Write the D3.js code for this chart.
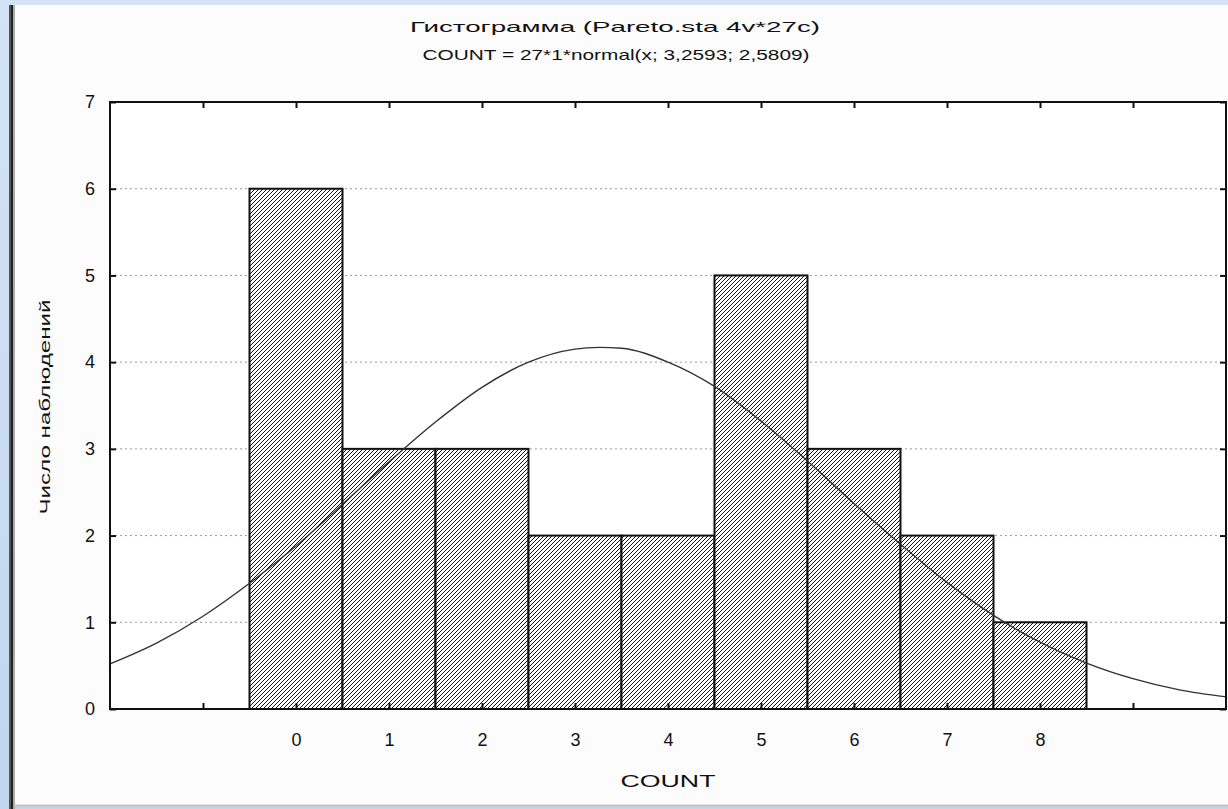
<!DOCTYPE html>
<html>
<head>
<meta charset="utf-8">
<script src="https://cdnjs.cloudflare.com/ajax/libs/d3/7.8.5/d3.min.js"></script>
<style>
  body { margin: 0; background: #c9dcf1; }
  svg { display: block; }
  text { font-family: "Liberation Sans", Arial, sans-serif; fill: #111; }
</style>
</head>
<body>
<div id="chart"></div>
<script>
// histogram bins (COUNT value) and number of observations
const categories = [0, 1, 2, 3, 4, 5, 6, 7, 8];
const counts = [6, 3, 3, 2, 2, 5, 3, 2, 1];

// fitted normal curve, every 0.5
const curveX = [-2, -1.5, -1, -0.5, 0, 0.5, 1, 1.5, 2, 2.5, 3, 3.26, 3.5, 4, 4.5, 5, 5.5, 6, 6.5, 7, 7.5, 8, 8.5, 9, 9.5, 10];
const curveY = [0.52, 0.76, 1.07, 1.45, 1.88, 2.36, 2.85, 3.31, 3.71, 4.0, 4.15, 4.17, 4.16, 4.0, 3.72, 3.32, 2.86, 2.37, 1.9, 1.46, 1.08, 0.77, 0.53, 0.35, 0.22, 0.14];

const xTicks = [-1, 0, 1, 2, 3, 4, 5, 6, 7, 8, 9];
const yTicks = [0, 1, 2, 3, 4, 5, 6, 7];

const title1 = "Гистограмма (Pareto.sta 4v*27c)";
const title2 = "COUNT = 27*1*normal(x; 3,2593; 2,5809)";
const xTitle = "COUNT";
const yTitle = "Число наблюдений";

const W = 1228, H = 809;
const plot = { left: 110, right: 1226, top: 102, bottom: 709 };

const svg = d3.select("#chart").append("svg")
  .attr("width", W)
  .attr("height", H);

// slide background + white window
const defs = svg.append("defs");
const bg = defs.append("linearGradient").attr("id", "bg")
  .attr("x1", 0).attr("y1", 0).attr("x2", 0).attr("y2", 1);
bg.append("stop").attr("offset", "0%").attr("stop-color", "#d3e3f5");
bg.append("stop").attr("offset", "100%").attr("stop-color", "#c0d6ef");
svg.append("rect").attr("width", W).attr("height", H).attr("fill", "url(#bg)");

svg.append("rect")
  .attr("x", 14).attr("y", 5)
  .attr("width", W - 14).attr("height", 800)
  .attr("fill", "#fcfcfc");
svg.append("rect").attr("x", 9).attr("y", 5).attr("width", 2).attr("height", 804).attr("fill", "#555");
svg.append("rect").attr("x", 11).attr("y", 5).attr("width", 2).attr("height", 804).attr("fill", "#222");
svg.append("rect").attr("x", 13).attr("y", 5).attr("width", 2).attr("height", 804).attr("fill", "#aaa");
svg.append("line")
  .attr("x1", 14).attr("x2", W).attr("y1", 805.5).attr("y2", 805.5)
  .attr("stroke", "#c4c4c4").attr("stroke-width", 2);

// hatch pattern
const hatch = defs.append("pattern")
  .attr("id", "hatch")
  .attr("patternUnits", "userSpaceOnUse")
  .attr("width", 4).attr("height", 4);
hatch.append("rect").attr("width", 4).attr("height", 4).attr("fill", "#fff");
hatch.append("path")
  .attr("d", "M-1,1 L1,-1 M0,4 L4,0 M3,5 L5,3")
  .attr("stroke", "#111")
  .attr("stroke-width", 1);

const x = d3.scaleLinear().domain([-2, 10]).range([plot.left, plot.right]);
const y = d3.scaleLinear().domain([0, 7]).range([plot.bottom, plot.top]);

svg.append("rect")
  .attr("x", plot.left).attr("y", plot.top)
  .attr("width", plot.right - plot.left)
  .attr("height", plot.bottom - plot.top)
  .attr("fill", "#fff");

// dotted grid
svg.append("g")
  .selectAll("line")
  .data(yTicks.filter(d => d > 0 && d < 7))
  .join("line")
  .attr("x1", plot.left).attr("x2", plot.right)
  .attr("y1", d => y(d)).attr("y2", d => y(d))
  .attr("stroke", "#999")
  .attr("stroke-width", 1)
  .attr("stroke-dasharray", "2,3");

// bars
svg.append("g")
  .selectAll("rect")
  .data(categories)
  .join("rect")
  .attr("x", (d) => x(d - 0.5))
  .attr("y", (d, i) => y(counts[i]))
  .attr("width", (d) => x(d + 0.5) - x(d - 0.5))
  .attr("height", (d, i) => y(0) - y(counts[i]))
  .attr("fill", "url(#hatch)")
  .attr("stroke", "#111")
  .attr("stroke-width", 2);

// normal curve
const line = d3.line()
  .x((d) => x(d[0]))
  .y((d) => y(d[1]))
  .curve(d3.curveMonotoneX);
svg.append("path")
  .datum(curveX.map((v, i) => [v, curveY[i]]))
  .attr("d", line)
  .attr("fill", "none")
  .attr("stroke", "#333")
  .attr("stroke-width", 1.4);

// frame
svg.append("rect")
  .attr("x", plot.left).attr("y", plot.top)
  .attr("width", plot.right - plot.left)
  .attr("height", plot.bottom - plot.top)
  .attr("fill", "none")
  .attr("stroke", "#111")
  .attr("stroke-width", 2);

// axes (inward ticks)
const axisStyle = (g) => {
  g.select(".domain").remove();
  g.selectAll(".tick line").attr("stroke", "#111").attr("stroke-width", 2);
  g.selectAll(".tick text")
    .style("font-size", "18px")
    .style("font-family", "'Liberation Sans', Arial, sans-serif")
    .attr("fill", "#111");
};

svg.append("g")
  .attr("transform", `translate(0,${plot.bottom})`)
  .call(d3.axisBottom(x).tickValues(xTicks).tickSize(-6).tickPadding(24)
    .tickFormat((d) => (d >= 0 && d <= 8 ? d : "")))
  .call(axisStyle);

svg.append("g")
  .attr("transform", `translate(0,${plot.top})`)
  .call(d3.axisTop(x).tickValues(xTicks).tickSize(-6).tickFormat(""))
  .call(axisStyle);

svg.append("g")
  .attr("transform", `translate(${plot.left},0)`)
  .call(d3.axisLeft(y).tickValues(yTicks).tickSize(-6).tickPadding(15)
    .tickFormat(d3.format("d")))
  .call(axisStyle);

svg.append("g")
  .attr("transform", `translate(${plot.right},0)`)
  .call(d3.axisRight(y).tickValues(yTicks).tickSize(-6).tickFormat(""))
  .call(axisStyle);

// titles (wide, stretched glyphs as in the original)
const label = (txt, x0, y0, len, size) =>
  svg.append("text")
    .attr("x", x0).attr("y", y0)
    .attr("text-anchor", "middle")
    .attr("textLength", len)
    .attr("lengthAdjust", "spacingAndGlyphs")
    .style("font-size", size + "px")
    .text(txt);

label(title1, 615, 32, 410, 15);
label(title2, 616, 60, 387, 15);
label(xTitle, (plot.left + plot.right) / 2, 787, 95, 16);

svg.append("text")
  .attr("transform", "translate(50,407) rotate(-90)")
  .attr("text-anchor", "middle")
  .attr("textLength", 215)
  .attr("lengthAdjust", "spacingAndGlyphs")
  .style("font-size", "15px")
  .text(yTitle);
</script>
</body>
</html>
